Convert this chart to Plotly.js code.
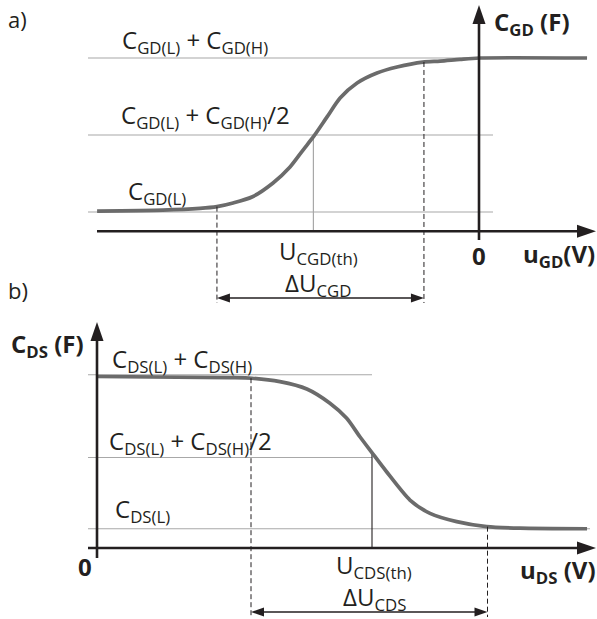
<!DOCTYPE html>
<html>
<head>
<meta charset="utf-8">
<script src="https://cdn.plot.ly/plotly-3.0.1.min.js"></script>
<style>html,body{margin:0;padding:0;background:#fff}</style>
</head>
<body>
<div id="chart" style="width:597px;height:619px"></div>
<script>
// a) gate–drain capacitance C_GD versus u_GD (arbitrary units)
const ugd = [-18.45, -15.27, -13.48, -12.66, -11.88, -10.97, -9.95, -9.13, -8.5, -7.97,
             -7.34, -6.71, -5.89, -4.93, -3.96, -2.71, -1.88, -0.92, 0, 5.22];
const cgd = [1.05, 1.10, 1.19, 1.28, 1.47, 1.78, 2.51, 3.34, 4.22, 4.95,
             5.94, 6.92, 7.70, 8.22, 8.53, 8.79, 8.84, 8.93, 9.0, 9.0];
const cgdLevels = [1, 5, 9];          // C_GD(L), midpoint, C_GD(L)+C_GD(H)
const ugdThreshold = -8;
const ugdDelta = [-12.66, -2.66];

// b) drain–source capacitance C_DS versus u_DS (arbitrary units)
const uds = [0, 4.84, 5.63, 6.65, 7.63, 8.47, 9.08, 9.56, 9.99, 10.53,
             11.38, 12.11, 13.08, 14.17, 15.38, 17.82];
const cds = [8.91, 8.85, 8.82, 8.64, 8.26, 7.52, 6.74, 5.78, 4.97, 3.96,
             2.49, 1.80, 1.37, 1.11, 1.03, 1.0];
const cdsLevels = [1, 4.7, 9];        // C_DS(L), midpoint, C_DS(L)+C_DS(H)
const udsThreshold = 10;
const udsDelta = [5.6, 14.2];

// ---- geometry -------------------------------------------------------------
const W = 597, H = 619, SPLIT = 310;
const INK = '#231f20', GRID = '#a8a8a8', CURVE = '#6b6b6b';
const FONT = 'Open Sans, Noto Sans, sans-serif';

// pixel origin and pixels-per-unit for each panel
const A = {xref: 'x', yref: 'y', ox: 479, kx: 20.7, oy: 231.25, ky: 19.25, top: 0, bottom: SPLIT};
const B = {xref: 'x2', yref: 'y2', ox: 97, kx: 27.5, oy: 548, ky: 19.25, top: SPLIT, bottom: H};
const toU = (p, X) => (X - p.ox) / p.kx;
const toC = (p, Y) => (p.oy - Y) / p.ky;
const pxX = (p, u) => p.ox + p.kx * u;
const pxY = (p, c) => p.oy - p.ky * c;

function interp(xs, ys, x) {
  for (let i = 0; i < xs.length - 1; i++) {
    if (x >= xs[i] && x <= xs[i + 1]) {
      const t = (x - xs[i]) / (xs[i + 1] - xs[i]);
      return ys[i] + t * (ys[i + 1] - ys[i]);
    }
  }
  return x < xs[0] ? ys[0] : ys[ys.length - 1];
}

const shapes = [];
function seg(p, u0, c0, u1, c1, line, layer) {
  shapes.push({type: 'line', xref: p.xref, yref: p.yref, x0: u0, y0: c0, x1: u1, y1: c1,
               line: line, layer: layer || 'above'});
}
// filled triangular arrowhead; tip given in pixels, dir: 'up' | 'right' | 'left'
function head(p, tx, ty, dir, len, wid) {
  let pts;
  if (dir === 'up') pts = [[tx, ty], [tx - wid / 2, ty + len], [tx + wid / 2, ty + len]];
  else if (dir === 'right') pts = [[tx, ty], [tx - len, ty - wid / 2], [tx - len, ty + wid / 2]];
  else pts = [[tx, ty], [tx + len, ty - wid / 2], [tx + len, ty + wid / 2]];
  const d = pts.map((q, i) => (i ? 'L' : 'M') + toU(p, q[0]) + ',' + toC(p, q[1])).join(' ') + ' Z';
  shapes.push({type: 'path', xref: p.xref, yref: p.yref, path: d,
               fillcolor: INK, line: {width: 0}, layer: 'above'});
}

const gridLine = {color: GRID, width: 1.2};
const axisLine = {color: INK, width: 2.6};
const dashLine = {color: INK, width: 1, dash: '5px,3px'};
const arrowLine = {color: INK, width: 1.5};

// ---- panel a --------------------------------------------------------------
cgdLevels.forEach(c => seg(A, toU(A, 88), c, toU(A, 493), c, gridLine, 'below'));
seg(A, ugdThreshold, cgdLevels[1], ugdThreshold, 0, {color: GRID, width: 1.2}, 'below');
ugdDelta.forEach(u => seg(A, u, interp(ugd, cgd, u), u, toC(A, 303), dashLine));
// axes
seg(A, toU(A, 97), 0, toU(A, 596 - 10), 0, axisLine);
head(A, 596, pxY(A, 0), 'right', 19, 13);
seg(A, 0, toC(A, 240), 0, toC(A, 5 + 10), axisLine);
head(A, pxX(A, 0), 5, 'up', 19, 13);
// ΔU_CGD span arrow
{
  const y = 298, x0 = pxX(A, ugdDelta[0]), x1 = pxX(A, ugdDelta[1]);
  seg(A, toU(A, x0 + 6), toC(A, y), toU(A, x1 - 6), toC(A, y), arrowLine);
  head(A, x0, y, 'left', 13, 9);
  head(A, x1, y, 'right', 13, 9);
}

// ---- panel b --------------------------------------------------------------
seg(B, toU(B, 88), cdsLevels[2], udsThreshold, cdsLevels[2], gridLine, 'below');
seg(B, toU(B, 88), cdsLevels[1], udsThreshold, cdsLevels[1], gridLine, 'below');
seg(B, toU(B, 88), cdsLevels[0], toU(B, 590), cdsLevels[0], gridLine, 'below');
seg(B, udsThreshold, interp(uds, cds, udsThreshold), udsThreshold, 0, {color: INK, width: 1.1}, 'below');
udsDelta.forEach(u => seg(B, u, interp(uds, cds, u), u, toC(B, 617), dashLine));
// axes
seg(B, toU(B, 88), 0, toU(B, 596 - 10), 0, axisLine);
head(B, 596, pxY(B, 0), 'right', 19, 13);
seg(B, 0, toC(B, 558), 0, toC(B, 322 + 10), axisLine);
head(B, pxX(B, 0), 322, 'up', 19, 13);
// ΔU_CDS span arrow
{
  const y = 612, x0 = pxX(B, udsDelta[0]), x1 = pxX(B, udsDelta[1]);
  seg(B, toU(B, x0 + 6), toC(B, y), toU(B, x1 - 6), toC(B, y), arrowLine);
  head(B, x0, y, 'left', 13, 9);
  head(B, x1, y, 'right', 13, 9);
}

// ---- text -----------------------------------------------------------------
function label(text, x, y, size, anchor) {
  return {text: text, xref: 'paper', yref: 'paper', x: x / W, y: 1 - y / H,
          xanchor: anchor || 'center', yanchor: 'middle', showarrow: false,
          font: {family: FONT, size: size || 24, color: INK}};
}
const annotations = [
  label('a)', 17, 19, 22),
  label('C<sub>GD(L)</sub> + C<sub>GD(H)</sub>', 195, 41),
  label('C<sub>GD(L)</sub> + C<sub>GD(H)</sub>/2', 205, 116),
  label('C<sub>GD(L)</sub>', 157, 192),
  label('U<sub>CGD(th)</sub>', 318, 252),
  label('ΔU<sub>CGD</sub>', 318, 284),
  label('<b>0</b>', 479, 255, 24),
  label('<b>u<sub>GD</sub>(V)</b>', 559, 255, 24),
  label('<b>C<sub>GD</sub> (F)</b>', 532, 23, 24),
  label('b)', 18, 290, 22),
  label('<b>C<sub>DS</sub> (F)</b>', 47, 345, 24),
  label('C<sub>DS(L)</sub> + C<sub>DS(H)</sub>', 182, 360),
  label('C<sub>DS(L)</sub> + C<sub>DS(H)</sub>/2', 190, 442),
  label('C<sub>DS(L)</sub>', 142, 510),
  label('<b>0</b>', 85, 566, 24),
  label('U<sub>CDS(th)</sub>', 374, 566),
  label('ΔU<sub>CDS</sub>', 374, 598),
  label('<b>u<sub>DS</sub> (V)</b>', 558, 571, 24)
];

// ---- traces ---------------------------------------------------------------
const traces = [
  {x: ugd, y: cgd, xaxis: 'x', yaxis: 'y', type: 'scatter', mode: 'lines',
   line: {color: CURVE, width: 3.7, shape: 'spline', smoothing: 0.7}, hoverinfo: 'skip'},
  {x: uds, y: cds, xaxis: 'x2', yaxis: 'y2', type: 'scatter', mode: 'lines',
   line: {color: CURVE, width: 3.7, shape: 'spline', smoothing: 0.7}, hoverinfo: 'skip'}
];

const hidden = {visible: false, showgrid: false, zeroline: false, fixedrange: true};
const layout = {
  width: W, height: H,
  margin: {l: 0, r: 0, t: 0, b: 0, pad: 0},
  paper_bgcolor: '#ffffff', plot_bgcolor: '#ffffff',
  showlegend: false,
  xaxis: Object.assign({domain: [0, 1], range: [toU(A, 0), toU(A, W)], anchor: 'y'}, hidden),
  yaxis: Object.assign({domain: [1 - A.bottom / H, 1 - A.top / H],
                        range: [toC(A, A.bottom), toC(A, A.top)], anchor: 'x'}, hidden),
  xaxis2: Object.assign({domain: [0, 1], range: [toU(B, 0), toU(B, W)], anchor: 'y2'}, hidden),
  yaxis2: Object.assign({domain: [0, 1 - B.top / H],
                         range: [toC(B, B.bottom), toC(B, B.top)], anchor: 'x2'}, hidden),
  shapes: shapes,
  annotations: annotations
};

Plotly.newPlot('chart', traces, layout, {staticPlot: true, displayModeBar: false});
</script>
</body>
</html>
